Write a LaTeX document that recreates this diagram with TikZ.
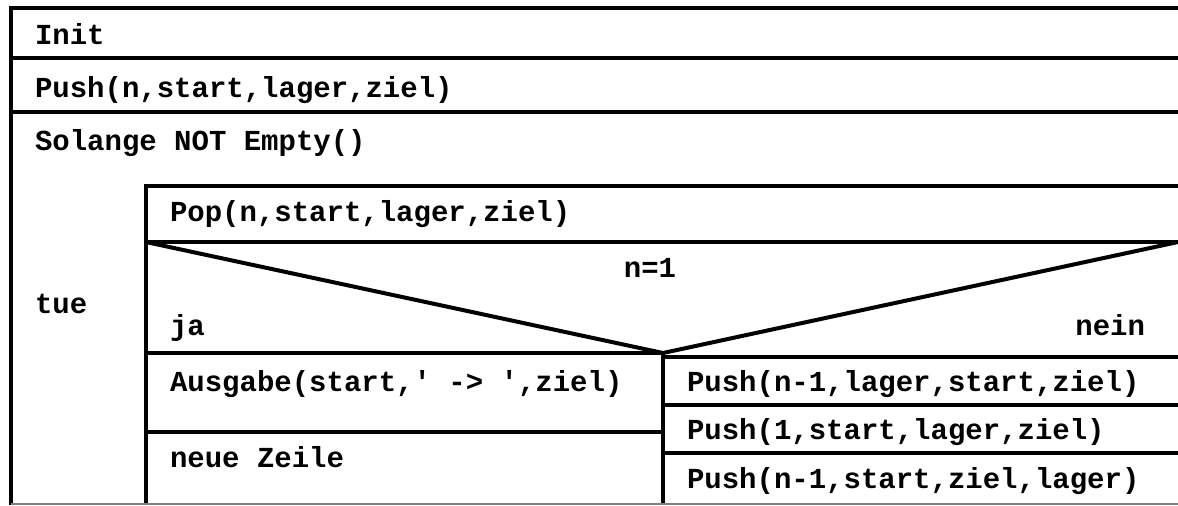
\documentclass[tikz,border=0pt]{standalone}
\usepackage{fontspec}
\setmonofont{Liberation Mono}
\usepackage{tikz}
\usetikzlibrary{positioning}

\begin{document}
\begin{tikzpicture}[x=0.5pt, y=-0.5pt, line width=2pt,
        cell/.style={font=\ttfamily\bfseries\fontsize{14.5}{17}\selectfont, inner sep=0pt}]
        \useasboundingbox (0, 0) rectangle (1178, 505);

        \coordinate (tl) at (11, 8);
        \coordinate (il) at (146, 186);
        \coordinate (apex) at (663, 353);

        % outer frame and sequence rows
        \draw (11, 505) -- (tl) -- (1178, 8);
        \draw (11, 58) -- (1178, 58)
            (11, 112) -- (1178, 112);

        % loop body
        \draw (146, 505) -- (il) -- (1178, 186);
        \draw (146, 242) -- (1178, 242);
        \draw (146, 242) -- (apex) -- (1178, 242);
        \draw (146, 353) -- (apex) -- (663, 505);
        \draw (146, 432) -- (663, 432);
        \draw (663, 357) -- (1178, 357)
            (663, 405) -- (1178, 405)
            (663, 453) -- (1178, 453);
        \draw[gray, line width=1pt] (11, 504) -- (1178, 504);

        \node[cell, anchor=base west] (init) at (33, 44) {Init};
        \node[cell, anchor=base west] (push0) at (33, 97) {Push(n,start,lager,ziel)};
        \node[cell, anchor=base west] (loop) at (33, 150) {Solange NOT Empty()};
        \node[cell, anchor=base west] (tue) at (33, 313) {tue};
        \node[cell, anchor=base west] (pop) at (168, 221) {Pop(n,start,lager,ziel)};
        \node[cell, anchor=base] (cond) at (650, 277) {n=1};
        \node[cell, anchor=base west] (ja) at (168, 335) {ja};
        \node[cell, anchor=base east] (nein) at (1147, 335) {nein};
        \node[cell, anchor=base west] (out) at (168, 391) {Ausgabe(start,' -> ',ziel)};
        \node[cell, anchor=base west] (nl) at (168, 467) {neue Zeile};
        \node[cell, anchor=base west] (push1) at (685, 391) {Push(n-1,lager,start,ziel)};
        \node[cell, anchor=base west] (push2) at (685, 439) {Push(1,start,lager,ziel)};
        \node[cell, anchor=base west] (push3) at (685, 488) {Push(n-1,start,ziel,lager)};
    \end{tikzpicture}
\end{document}
